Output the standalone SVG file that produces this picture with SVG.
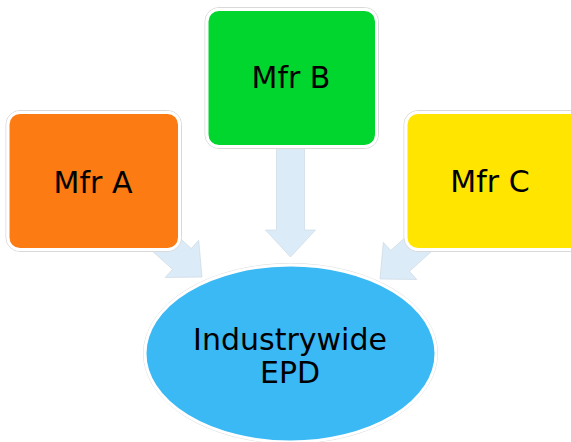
<svg xmlns="http://www.w3.org/2000/svg" width="571" height="442" viewBox="0 0 571 442">
<defs>
<style>
.box{stroke:#ffffff;stroke-width:3}
.shadow{fill:none;stroke:#d9d9d9;stroke-width:1}
.arrow{fill:#dcebf8;stroke:#c8d6e2;stroke-width:0.6}
.lbl{font-family:"DejaVu Sans","Noto Sans",sans-serif;font-size:30px;fill:#000000;text-anchor:middle}
</style>
<polygon id="arr" points="0,0 -27,-25 -27,-14 -110,-14 -110,14 -27,14 -27,25"/>
</defs>
<rect width="571" height="442" fill="#ffffff"/>
<g id="connectors">
<use href="#arr" class="arrow" transform="translate(202,277) rotate(42)"/>
<use href="#arr" class="arrow" transform="translate(290.5,257) rotate(90)"/>
<use href="#arr" class="arrow" transform="translate(380,279) rotate(138)"/>
</g>
<g id="mfrA">
<rect class="shadow" x="6" y="110.5" width="175.5" height="141" rx="14"/>
<rect class="box" x="8" y="112.5" width="171.5" height="137" rx="12" fill="#fc7b12"/>
<text class="lbl" x="93" y="193">Mfr A</text>
</g>
<g id="mfrB">
<rect class="shadow" x="205" y="7.5" width="173.5" height="141" rx="14"/>
<rect class="box" x="207" y="9.5" width="169.5" height="137" rx="12" fill="#00d62e"/>
<text class="lbl" x="291" y="88">Mfr B</text>
</g>
<g id="mfrC">
<rect class="shadow" x="404" y="110.5" width="180" height="141" rx="14"/>
<rect class="box" x="406" y="112.5" width="176" height="137" rx="12" fill="#ffe500"/>
<text class="lbl" x="490" y="192">Mfr C</text>
</g>
<g id="epd">
<ellipse cx="290.5" cy="353.5" rx="147" ry="90" fill="none" stroke="#dddddd" stroke-width="1"/>
<ellipse class="box" cx="290.5" cy="353.5" rx="145.5" ry="88.5" fill="#3bb9f4"/>
<text class="lbl" x="290" y="350">Industrywide</text>
<text class="lbl" x="290" y="383">EPD</text>
</g>
</svg>
